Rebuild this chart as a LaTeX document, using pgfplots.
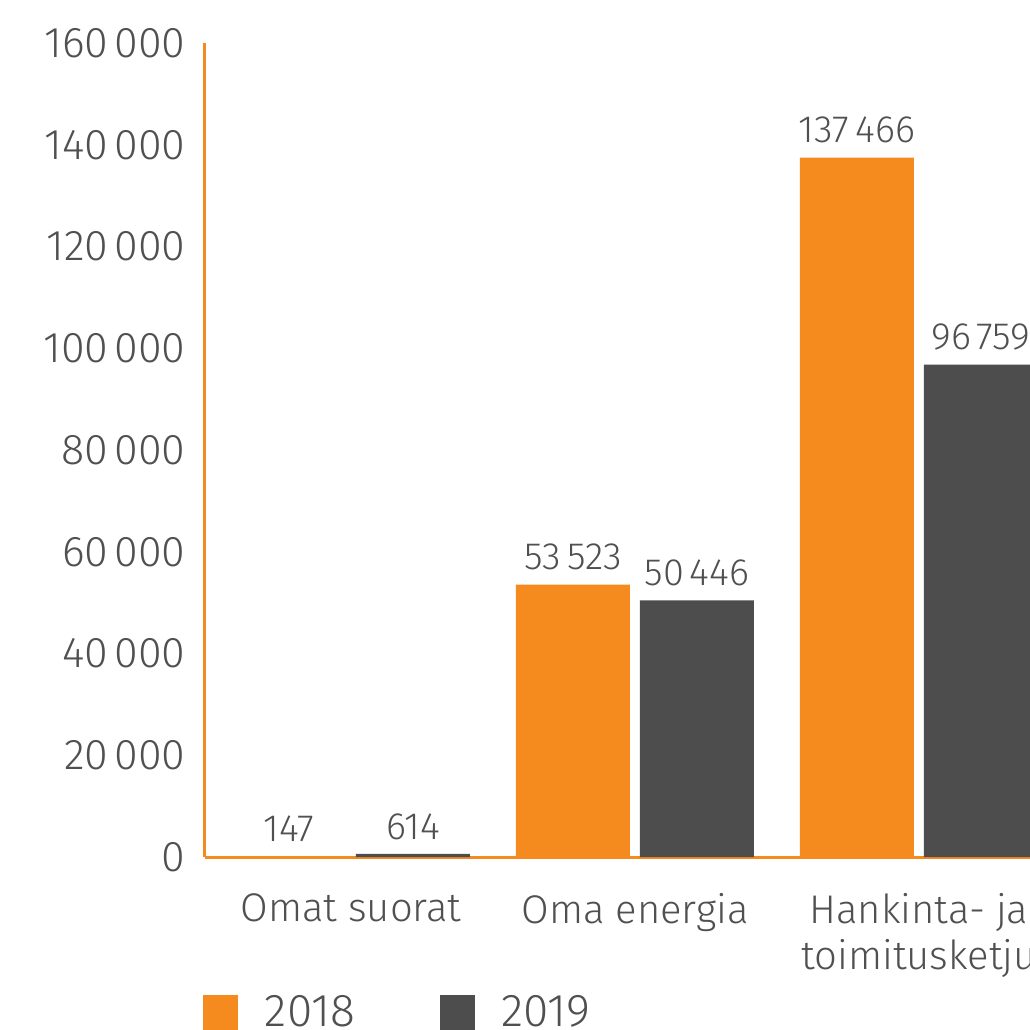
\documentclass[border=0pt]{standalone}
\usepackage{fontspec}
\setmainfont{Fira Sans Light}
\usepackage{pgfplots}
\pgfplotsset{compat=1.18}
\definecolor{orng}{HTML}{F58A1F}
\definecolor{dgray}{HTML}{4D4D4D}
\definecolor{txt}{HTML}{505050}
\pgfkeys{/pgf/number format/.cd, fixed, precision=0, 1000 sep={\hspace{3pt}}, assume math mode=true}
\begin{document}
\begin{tikzpicture}
\begin{axis}[
  scale only axis, width=412.5pt, height=407pt,
  xmin=-0.514, xmax=2.391, ymin=0, ymax=160000,
  ybar=5pt, bar width=57pt,
  axis x line*=bottom, axis y line*=left,
  axis line style={orng, line width=1.5pt, -},
  major tick length=0pt,
  xtick={0,1,2},
  xticklabels={Omat suorat, Oma energia, {Hankinta- ja\\toimitusketju}},
  xticklabel style={align=center, anchor=north, inner sep=0pt, yshift=-18pt,
    font={\fontsize{20}{23}\selectfont}, text=txt},
  ytick={0,20000,40000,60000,80000,100000,120000,140000,160000},
  scaled y ticks=false,
  yticklabel={\pgfmathprintnumber[fixed, precision=0, assume math mode=true]{\tick}},
  yticklabel style={anchor=east, inner sep=0pt, xshift=-9.5pt,
    font={\fontsize{21.5}{24}\selectfont}, text=txt},
  nodes near coords={\pgfmathprintnumber[fixed, precision=0, assume math mode=true]{\pgfplotspointmeta}},
  every node near coord/.append style={font={\fontsize{19}{21}\selectfont},
    text=txt, inner sep=0pt, anchor=south, yshift=7pt},
  legend columns=2,
  legend image code/.code={\fill[#1] (0pt,-8.75pt) rectangle (17.5pt,8.75pt);},
  legend style={draw=none, fill=none, inner sep=0pt, outer sep=0pt,
    at={(axis description cs:0,0)}, anchor=west, xshift=-1pt, yshift=-77.5pt,
    font={\fontsize{23}{25}\selectfont}, text=txt,
    nodes={inner sep=0pt},
    /tikz/every odd column/.append style={column sep=13.5pt},
    /tikz/every even column/.append style={column sep=42.5pt}},
]
\addplot[fill=orng, draw=none] coordinates {(0,147) (1,53523) (2,137466)};
\addlegendentry{2018}
\addplot[fill=dgray, draw=none] coordinates {(0,614) (1,50446) (2,96759)};
\addlegendentry{2019}
\end{axis}
\pgfresetboundingbox
\useasboundingbox (-102.5pt,-86.5pt) rectangle (412.5pt,428.5pt);
\end{tikzpicture}
\end{document}
